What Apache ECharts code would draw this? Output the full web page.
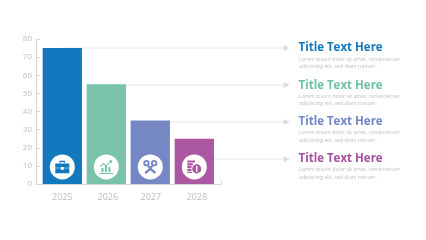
<!DOCTYPE html>
<html lang="en">
<head>
    <meta charset="utf-8"/>
    <title>Bar infographic</title>
    <script src="https://cdn.jsdelivr.net/npm/echarts@6/dist/echarts.min.js"></script>
    <style>
        html, body { margin: 0; padding: 0; background: #fff; }
        #chart { width: 426px; height: 240px; }
    </style>
</head>
<body>
<div id="chart"></div>
<script type="text/javascript">
    const years = ['2025', '2026', '2027', '2028'];
    const values = [75, 55, 35, 25];
    const colors = ['#1379bf', '#79c3aa', '#7688c4', '#ac57a2'];
    const titleColors = ['#1177bf', '#70c0a5', '#7086c8', '#a64fa0'];
    // the connectors do not all leave from the top of the bar
    const connectorLevels = [75, 54.6, 34.2, 13.8];
    const iconLevel = 9.4;
    const titles = ['Title Text Here', 'Title Text Here', 'Title Text Here', 'Title Text Here'];
    const bodyLine1 = 'Lorem ipsum dolor sit amet, consectetuer';
    const bodyLine2 = 'adipiscing elit, sed diam nonum.';
    const yTicks = { min: 0, max: 80, interval: 10 };

    const fontName = '"Open Sans"';
    const grey = '#bdbdbd';
    const lineGrey = '#e6e6e6';

    const icons = [
        // briefcase
        'path://M8 3h8v3h-2V5h-4v1H8zM2 7h20v6h-8v-1h-4v1H2zM2 14h8v2h4v-2h8v7H2z',
        // growth chart
        'path://M5 14h3v6H5zM10 11h3v9h-3zM15 13h3v7h-3zM2 21h20v1.5H2zM3 11l5-4 4 3 5-5-1.500-1.500 5-1-1 5-1.500-1.500-6 6-4-3-4 3.300z',
        // crossed tools
        'path://M1 6a5 5 0 1 1 10 0a5 5 0 1 1-10 0zM4 6a2 2 0 1 0 4 0a2 2 0 1 0-4 0zM13 6a5 5 0 1 1 10 0a5 5 0 1 1-10 0zM16 6a2 2 0 1 0 4 0a2 2 0 1 0-4 0zM9 9l3 2 3-2 2 2-3 3 7 6-2 3-7-6-7 6-2-3 7-6-3-3z',
        // coins
        'path://M2 3h11v3H2zM2 7h8v3H2zM2 11h6v3H2zM2 15h6v3H2zM2 19h7v2H2zM9 15a6.500 6.500 0 1 1 13 0a6.500 6.500 0 1 1-13 0zM14.500 11v8h2v-8z'
    ];

    const gridTop = 39;
    const gridHeight = 145;
    const axisCommon = { min: yTicks.min, max: yTicks.max, interval: yTicks.interval };

    const textItems = [];
    const textTops = [47.7, 85, 121.5, 158.5];
    titles.forEach(function (t, i) {
        textItems.push({
            type: 'text', left: 298.5, top: textTops[i] - 5.5,
            style: { text: t, font: 'bold 11.5px ' + fontName, fill: titleColors[i] }
        });
        textItems.push({
            type: 'text', left: 299, top: textTops[i] + 9,
            style: { text: bodyLine1, font: '5.2px ' + fontName, fill: '#bfbfbf' }
        });
        textItems.push({
            type: 'text', left: 299, top: textTops[i] + 16.5,
            style: { text: bodyLine2, font: '5.2px ' + fontName, fill: '#bfbfbf' }
        });
    });

    const connectorSeries = connectorLevels.map(function (level, i) {
        return {
            type: 'line',
            xAxisIndex: 2,
            yAxisIndex: 2,
            z: 1,
            silent: true,
            clip: false,
            lineStyle: { color: lineGrey, width: 1 },
            itemStyle: { color: '#dcdcdc' },
            data: [
                { value: [i + 0.5, level], symbol: 'none' },
                { value: [5.6, level], symbol: 'triangle', symbolSize: 6, symbolRotate: -90 }
            ]
        };
    });

    // the year labels sit a little right of their bars in the original
    const labelNudge = [0, 3, 1, 5];

    const chart = echarts.init(document.getElementById('chart'), null, { renderer: 'canvas' });
    chart.setOption({
        backgroundColor: '#fff',
        animation: false,
        textStyle: { fontFamily: fontName },
        grid: [
            { left: 36, top: gridTop, width: 185, height: gridHeight },
            { left: 40.3, top: gridTop, width: 176, height: gridHeight },
            { left: 40.3, top: gridTop, width: 250.8, height: gridHeight }
        ],
        xAxis: [
            {
                gridIndex: 0, type: 'value', min: 0, max: 1, interval: 1,
                axisLine: { show: true, lineStyle: { color: '#d8d8d8' } },
                axisTick: { show: true, inside: true, length: 3, lineStyle: { color: '#d8d8d8' } },
                axisLabel: { show: false },
                splitLine: { show: false }
            },
            {
                gridIndex: 1, type: 'category',
                data: years.map(function (y, i) {
                    return { value: y, textStyle: { padding: [0, 0, 0, labelNudge[i]] } };
                }),
                axisLine: { show: false },
                axisTick: { show: false },
                axisLabel: { color: grey, fontSize: 9, margin: 9, fontFamily: fontName }
            },
            {
                gridIndex: 2, type: 'value', min: 0, max: 5.7, show: false
            }
        ],
        yAxis: [
            Object.assign({
                gridIndex: 0, type: 'value',
                axisLine: { show: true, lineStyle: { color: '#d8d8d8' } },
                axisTick: { show: true, inside: true, length: 4, lineStyle: { color: '#d8d8d8' } },
                axisLabel: { color: grey, fontSize: 8, margin: 4, fontFamily: fontName },
                splitLine: { show: false }
            }, axisCommon),
            Object.assign({ gridIndex: 1, type: 'value', show: false }, axisCommon),
            Object.assign({ gridIndex: 2, type: 'value', show: false }, axisCommon)
        ],
        graphic: { elements: textItems },
        series: connectorSeries.concat([
            {
                type: 'bar',
                xAxisIndex: 1,
                yAxisIndex: 1,
                z: 3,
                barWidth: 39.3,
                silent: true,
                data: values.map(function (v, i) {
                    return { value: v, itemStyle: { color: colors[i] } };
                })
            },
            {
                type: 'scatter',
                xAxisIndex: 1,
                yAxisIndex: 1,
                z: 4,
                silent: true,
                symbol: 'circle',
                symbolSize: 25,
                itemStyle: { color: '#fff', opacity: 1 },
                data: years.map(function (y, i) { return [i, iconLevel]; })
            },
            {
                type: 'scatter',
                xAxisIndex: 1,
                yAxisIndex: 1,
                z: 5,
                silent: true,
                symbolKeepAspect: true,
                symbolSize: 14,
                data: years.map(function (y, i) {
                    return {
                        value: [i, iconLevel],
                        symbol: icons[i],
                        itemStyle: { color: colors[i], opacity: 1 }
                    };
                })
            }
        ])
    });
</script>
</body>
</html>
